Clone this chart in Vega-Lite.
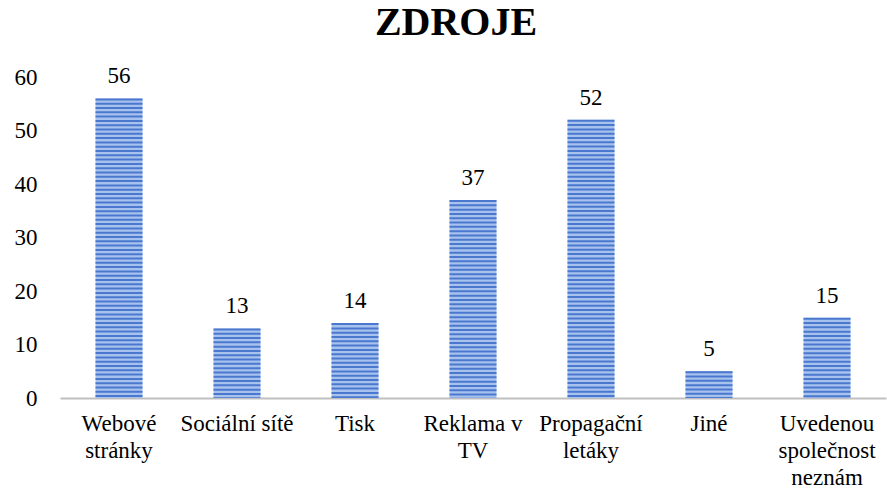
{
  "$schema": "https://vega.github.io/schema/vega-lite/v6.json",
  "autosize": "none",
  "width": 826,
  "height": 321,
  "padding": {"left": 60, "top": 77, "right": 1, "bottom": 92},
  "background": "white",
  "title": {
    "text": "ZDROJE",
    "font": "'Liberation Serif', 'DejaVu Serif', serif",
    "fontSize": 40,
    "fontWeight": "bold",
    "color": "#000000",
    "anchor": "middle",
    "offset": 22,
    "dx": -17
  },
  "config": {
    "view": {"stroke": null},
    "font": "'Liberation Serif', 'DejaVu Serif', serif"
  },
  "data": {
    "values": [
      {"zdroj": "Webové stránky", "pocet": 56},
      {"zdroj": "Sociální sítě", "pocet": 13},
      {"zdroj": "Tisk", "pocet": 14},
      {"zdroj": "Reklama v TV", "pocet": 37},
      {"zdroj": "Propagační letáky", "pocet": 52},
      {"zdroj": "Jiné", "pocet": 5},
      {"zdroj": "Uvedenou společnost neznám", "pocet": 15}
    ]
  },
  "encoding": {
    "x": {
      "field": "zdroj",
      "type": "nominal",
      "sort": null,
      "scale": {"paddingInner": 0.6, "paddingOuter": 0.3},
      "axis": {
        "title": null,
        "labelAngle": 0,
        "labelFont": "'Liberation Serif', 'DejaVu Serif', serif",
        "labelFontSize": 23,
        "labelColor": "#000000",
        "labelLineHeight": 27,
        "labelPadding": 14,
        "labelLimit": 200,
        "ticks": false,
        "domainColor": "#bfbfbf",
        "domainWidth": 2,
        "labelExpr": "datum.label == 'Webové stránky' ? ['Webové','stránky'] : datum.label == 'Reklama v TV' ? ['Reklama v','TV'] : datum.label == 'Propagační letáky' ? ['Propagační','letáky'] : datum.label == 'Uvedenou společnost neznám' ? ['Uvedenou','společnost','neznám'] : datum.label"
      }
    },
    "y": {
      "field": "pocet",
      "type": "quantitative",
      "scale": {"domain": [0, 60]},
      "axis": {
        "title": null,
        "values": [0, 10, 20, 30, 40, 50, 60],
        "grid": false,
        "domain": false,
        "ticks": false,
        "labelFont": "'Liberation Serif', 'DejaVu Serif', serif",
        "labelFontSize": 23,
        "labelColor": "#000000",
        "labelPadding": 23
      }
    }
  },
  "layer": [
    {"mark": {"type": "bar", "color": "#a8c2ee", "width": 47}},
    {
      "mark": {"type": "rule", "color": "#4a78cf", "strokeWidth": 47, "strokeDash": [2, 2.3]},
      "encoding": {"y2": {"datum": 0}}
    },
    {
      "mark": {"type": "text", "baseline": "bottom", "dy": -10, "fontSize": 23, "color": "#000000"},
      "encoding": {"text": {"field": "pocet", "type": "quantitative"}}
    }
  ]
}
